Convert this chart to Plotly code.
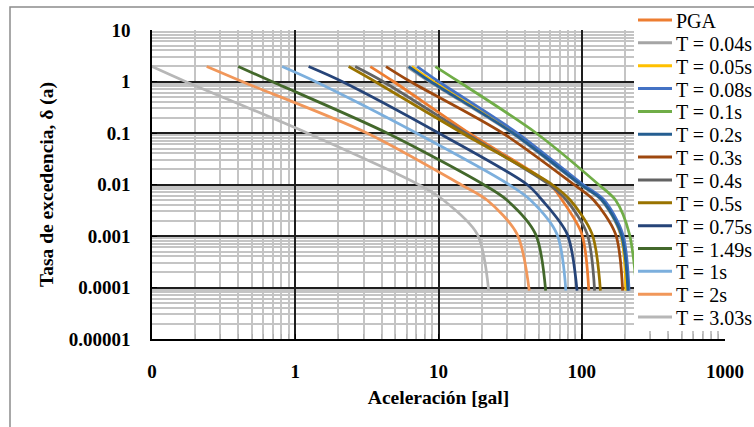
import plotly.graph_objects as go

# ---------------- data ----------------
rates = [1.95, 1, 0.1, 0.01, 0.005, 0.0011, 0.000087]

series_names = ["PGA", "T = 0.04s", "T = 0.05s", "T = 0.08s", "T = 0.1s", "T = 0.2s",
                "T = 0.3s", "T = 0.4s", "T = 0.5s", "T = 0.75s", "T = 1.49s", "T = 1s",
                "T = 2s", "T = 3.03s"]

acc_pga = [3.34, 4.85, 16.3, 60, 72.8, 100, 112]
acc_t004 = [6.0, 8.6, 32.5, 97, 137, 186, 207]
acc_t005 = [6.5, 9.2, 34, 99, 139, 187, 203]
acc_t008 = [7.1, 10, 35.5, 102, 143, 193, 214]
acc_t01 = [9.5, 13.8, 48, 131, 172, 215, 242]
acc_t02 = [6.2, 8.8, 33, 98, 138, 188, 210]
acc_t03 = [4.3, 6.35, 28, 88, 121, 172, 193]
acc_t04 = [2.62, 4.1, 15.4, 59, 78, 109, 123]
acc_t05 = [2.36, 3.6, 14.6, 62, 83, 118, 135]
acc_t075 = [1.24, 2.12, 10, 41.5, 52.8, 79, 92.7]
acc_t149 = [0.40, 0.687, 4.37, 20.6, 30, 47.5, 56]
acc_t1 = [0.81, 1.38, 7.0, 31, 43.8, 67, 77.5]
acc_t2 = [0.241, 0.425, 3.16, 14.3, 21.8, 35.3, 43]
acc_t303 = [0.1, 0.171, 1.21, 7.25, 10.8, 18.6, 22.4]

x_tick_vals = [0.1, 1, 10, 100, 1000]
x_tick_text = ["0", "1", "10", "100", "1000"]
y_tick_vals = [1e-5, 1e-4, 1e-3, 1e-2, 1e-1, 1, 10]
y_tick_text = ["0.00001", "0.0001", "0.001", "0.01", "0.1", "1", "10"]

# ---------------- styling ----------------
colors = ["#ED7D31", "#A5A5A5", "#FFC000", "#4472C4", "#70AD47", "#255E91",
          "#9E480E", "#636363", "#997300", "#264478", "#43682B", "#7CAFDD",
          "#F1975A", "#B7B7B7"]
all_acc = [acc_pga, acc_t004, acc_t005, acc_t008, acc_t01, acc_t02, acc_t03,
           acc_t04, acc_t05, acc_t075, acc_t149, acc_t1, acc_t2, acc_t303]

FONT = "Liberation Serif"
W, H = 754, 427
ML, MR, MT, MB = 152, 29, 30, 88
PW, PH = W - ML - MR, H - MT - MB


def px_to_paper_x(px):
    return (px - ML) / PW


def px_to_paper_y(py):
    return (H - MB - py) / PH


fig = go.Figure()
for name, acc, col in zip(series_names, all_acc, colors):
    fig.add_trace(go.Scatter(
        x=acc, y=rates, mode="lines", name=name, showlegend=False,
        line=dict(color=col, width=2.75, shape="spline", smoothing=0.85),
    ))

minor_x = [m * 10 ** e for e in range(-1, 3) for m in range(2, 10)]
minor_y = [m * 10.0 ** e for e in range(-5, 1) for m in range(2, 10)]

axis_common = dict(
    type="log", showgrid=True, gridcolor="#1e1e1e", gridwidth=1.5,
    showline=True, linecolor="#000000", linewidth=1.5, zeroline=False,
    ticks="inside", ticklen=5, tickcolor="#000000",
    tickfont=dict(family=FONT, size=19, color="#000000", weight="bold"),
)

fig.update_xaxes(
    **axis_common, range=[-1, 3], tickvals=x_tick_vals, ticktext=x_tick_text,
    ticklabelstandoff=14,
    minor=dict(tickvals=minor_x, showgrid=True, gridcolor="#c4c4c4", gridwidth=1.5,
               ticks="inside", ticklen=5, tickcolor="#b0b0b0"),
    title=dict(text="Aceleración [gal]", standoff=10,
               font=dict(family=FONT, size=19.5, color="#000000", weight="bold")),
)
fig.update_yaxes(
    **axis_common, range=[-5, 1], tickvals=y_tick_vals, ticktext=y_tick_text,
    ticklabelstandoff=16,
    minor=dict(tickvals=minor_y, showgrid=True, gridcolor="#c4c4c4", gridwidth=1.5,
               ticks="", ticklen=0),
    title=dict(text="Tasa de excedencia, δ (a)", standoff=10,
               font=dict(family=FONT, size=19.5, color="#000000", weight="bold")),
)

shapes = []
annotations = []
# white legend box (covers the right part of the plot, like the original)
shapes.append(dict(type="rect", xref="paper", yref="paper", layer="above",
                   x0=px_to_paper_x(634), x1=px_to_paper_x(770),
                   y0=px_to_paper_y(331), y1=px_to_paper_y(9),
                   fillcolor="#ffffff", line=dict(width=0)))
# outer chart frame
shapes.append(dict(type="rect", xref="paper", yref="paper", layer="above",
                   x0=px_to_paper_x(10), x1=px_to_paper_x(790),
                   y0=px_to_paper_y(460), y1=px_to_paper_y(7),
                   fillcolor="rgba(0,0,0,0)", line=dict(color="#8c8c8c", width=1.5)))
# legend entries
for i, (name, col) in enumerate(zip(series_names, colors)):
    py = 20 + 22.85 * i
    shapes.append(dict(type="line", xref="paper", yref="paper", layer="above",
                       x0=px_to_paper_x(638), x1=px_to_paper_x(672),
                       y0=px_to_paper_y(py), y1=px_to_paper_y(py),
                       line=dict(color=col, width=3)))
    annotations.append(dict(xref="paper", yref="paper", x=px_to_paper_x(674),
                            y=px_to_paper_y(py + 1), xanchor="left", yanchor="middle",
                            text=name, showarrow=False,
                            font=dict(family=FONT, size=20, color="#000000")))

fig.update_layout(
    width=W, height=H, autosize=False,
    margin=dict(l=ML, r=MR, t=MT, b=MB, pad=0, autoexpand=False),
    plot_bgcolor="#ffffff", paper_bgcolor="#ffffff",
    shapes=shapes, annotations=annotations, showlegend=False,
)

fig.write_html("out.html", config={"displayModeBar": False},
               post_script="document.body.style.margin='0';document.body.style.overflow='hidden';")
